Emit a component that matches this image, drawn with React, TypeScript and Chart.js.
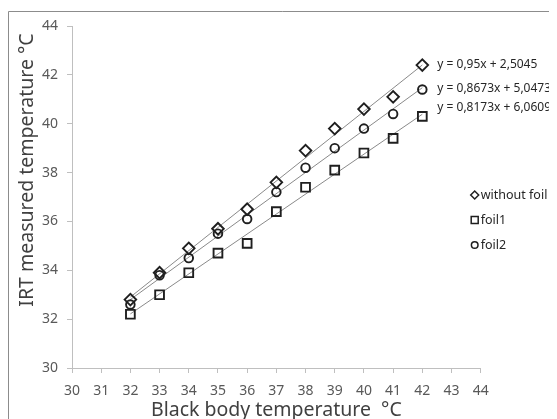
import React, { useEffect, useRef } from "react";
import { Chart, registerables } from "chart.js";

Chart.register(...registerables);

const blackBody = [32, 33, 34, 35, 36, 37, 38, 39, 40, 41, 42];
const withoutFoil = [32.8, 33.9, 34.9, 35.7, 36.5, 37.6, 38.9, 39.8, 40.6, 41.1, 42.4];
const foil1 = [32.2, 33.0, 33.9, 34.7, 35.1, 36.4, 37.4, 38.1, 38.8, 39.4, 40.3];
const foil2 = [32.6, 33.8, 34.5, 35.5, 36.1, 37.2, 38.2, 39.0, 39.8, 40.4, 41.4];

const seriesNames = ["without foil", "foil1", "foil2"];
const slopes = [0.95, 0.8173, 0.8673];
const intercepts = [2.5045, 6.0609, 5.0473];
const equationLabels = ["y = 0,95x + 2,5045", "y = 0,8673x + 5,0473", "y = 0,8173x + 6,0609"];

const xTickMin = 30;
const xTickMax = 44;
const yTickMin = 30;
const yTickMax = 44;

const FONT = "'Noto Sans', 'Open Sans', sans-serif";
const MARK = "#1f1f1f";

function trend(i: number) {
  const x0 = blackBody[0];
  const x1 = blackBody[blackBody.length - 1];
  return [
    { x: x0, y: slopes[i] * x0 + intercepts[i] },
    { x: x1, y: slopes[i] * x1 + intercepts[i] },
  ];
}

function pts(ys: number[]) {
  return blackBody.map((x, i) => ({ x, y: ys[i] }));
}

function drawMarker(ctx: CanvasRenderingContext2D, kind: string, x: number, y: number, r: number) {
  ctx.beginPath();
  if (kind === "diamond") {
    ctx.moveTo(x - r, y);
    ctx.lineTo(x, y - r);
    ctx.lineTo(x + r, y);
    ctx.lineTo(x, y + r);
    ctx.closePath();
  } else if (kind === "square") {
    ctx.rect(x - r, y - r, 2 * r, 2 * r);
  } else {
    ctx.arc(x, y, r, 0, Math.PI * 2);
  }
  ctx.stroke();
}

const extras = {
  id: "extras",
  beforeDraw(chart: any) {
    const ctx = chart.ctx as CanvasRenderingContext2D;
    ctx.save();
    ctx.fillStyle = "#ffffff";
    ctx.fillRect(0, 0, chart.width, chart.height);
    ctx.strokeStyle = "#8c8c8c";
    ctx.lineWidth = 1;
    ctx.beginPath();
    ctx.moveTo(0.5, chart.height);
    ctx.lineTo(0.5, 3.5);
    ctx.lineTo(chart.width, 3.5);
    ctx.stroke();
    ctx.restore();
  },
  afterDraw(chart: any) {
    const ctx = chart.ctx as CanvasRenderingContext2D;
    const xs = chart.scales.x;
    const ys = chart.scales.y;
    const area = chart.chartArea;
    ctx.save();
    // axis titles
    ctx.fillStyle = "#404040";
    ctx.font = `19.5px ${FONT}`;
    ctx.textAlign = "center";
    ctx.textBaseline = "middle";
    ctx.fillText("Black body temperature  °C", (area.left + area.right) / 2, 402);
    ctx.save();
    ctx.translate(19, 162);
    ctx.rotate(-Math.PI / 2);
    ctx.fillText("IRT measured temperature °C", 0, 0);
    ctx.restore();

    // equation labels
    ctx.font = `12px ${FONT}`;
    ctx.textAlign = "left";
    ctx.fillStyle = "#262626";
    const ex = xs.getPixelForValue(blackBody[blackBody.length - 1]) + 15;
    const eqY = [ys.getPixelForValue(42.44), ys.getPixelForValue(41.45), ys.getPixelForValue(40.65)];
    equationLabels.forEach((t, i) => ctx.fillText(t, ex, eqY[i]));

    // legend
    const kinds = ["diamond", "square", "circle"];
    const lx = area.right - 6;
    const ly0 = area.top + 169;
    ctx.font = `12.5px ${FONT}`;
    ctx.strokeStyle = MARK;
    ctx.lineWidth = 1.5;
    seriesNames.forEach((n, i) => {
      const y = ly0 + i * 25;
      const r = kinds[i] === "diamond" ? 4 : kinds[i] === "square" ? 3.5 : 3.3;
      drawMarker(ctx, kinds[i], lx, y, r);
      ctx.fillText(n, lx + 6, y);
    });
    ctx.restore();
  },
};

export default function App() {
  const ref = useRef<HTMLCanvasElement | null>(null);
  useEffect(() => {
    if (!ref.current) return;
    const axisColor = "#bfbfbf";
    const trendStyle = {
      showLine: true,
      borderColor: "#8a8a8a",
      borderWidth: 1,
      pointRadius: 0,
      order: 2,
    };
    const markStyle = {
      pointBorderWidth: 1.9,
      pointBorderColor: MARK,
      pointBackgroundColor: "rgba(0,0,0,0)",
      showLine: false,
      order: 1,
    };
    const chart = new Chart(ref.current, {
      type: "scatter",
      data: {
        datasets: [
          { label: "trend without foil", data: trend(0), ...trendStyle },
          { label: "trend foil1", data: trend(1), ...trendStyle },
          { label: "trend foil2", data: trend(2), ...trendStyle },
          { label: seriesNames[0], data: pts(withoutFoil), pointStyle: "rectRot", pointRadius: 5.8, ...markStyle },
          { label: seriesNames[1], data: pts(foil1), pointStyle: "rect", pointRadius: 6.2, ...markStyle },
          { label: seriesNames[2], data: pts(foil2), pointStyle: "circle", pointRadius: 4.3, ...markStyle },
        ],
      },
      options: {
        responsive: false,
        animation: false,
        layout: { padding: { left: 0, top: 18, right: 76.3, bottom: 0 } },
        plugins: { legend: { display: false }, tooltip: { enabled: false } },
        scales: {
          x: {
            type: "linear",
            min: xTickMin,
            max: xTickMax,
            ticks: { stepSize: 1, color: "#595959", font: { family: FONT, size: 14 }, padding: 10, maxRotation: 0, autoSkip: false },
            grid: { drawOnChartArea: false, drawTicks: true, tickLength: 5, color: axisColor },
            border: { color: axisColor },
            afterFit: (s: any) => { s.height = 51; },
          },
          y: {
            type: "linear",
            min: yTickMin,
            max: yTickMax,
            ticks: { stepSize: 2, color: "#595959", font: { family: FONT, size: 14 }, padding: 9 },
            grid: { drawOnChartArea: false, drawTicks: true, tickLength: 5, color: axisColor },
            border: { color: axisColor },
            afterFit: (s: any) => { s.width = 64; },
          },
        },
      },
      plugins: [extras],
    } as any);
    return () => chart.destroy();
  }, []);
  return (
    <canvas ref={ref} width={549} height={411} style={{ display: "block", width: 549, height: 411 }} />
  );
}
